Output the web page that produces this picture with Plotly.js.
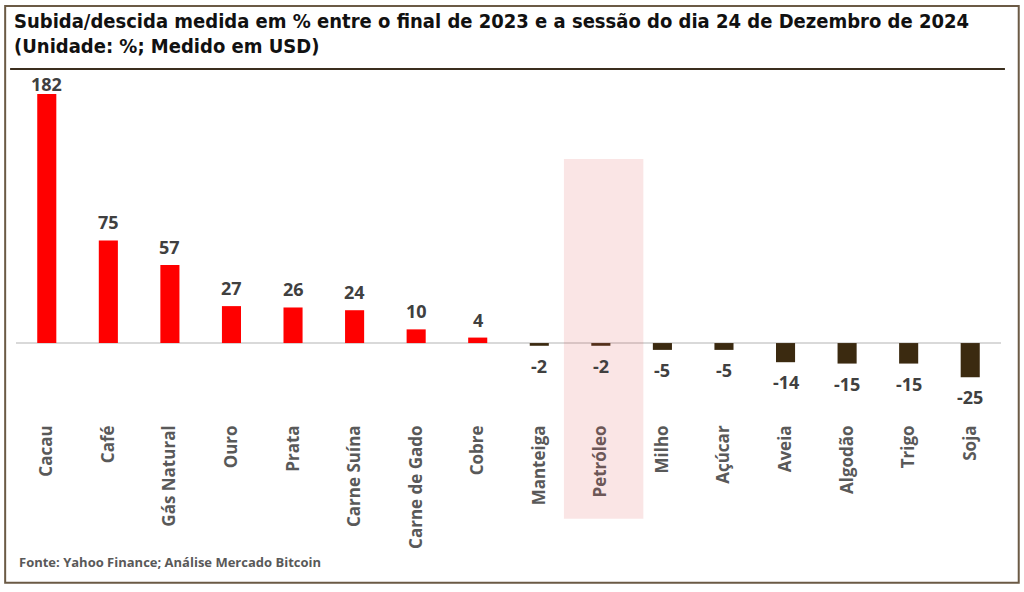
<!DOCTYPE html>
<html>
<head>
<meta charset="utf-8">
<script src="https://cdn.plot.ly/plotly-3.0.1.min.js"></script>
<style>
html,body{margin:0;padding:0;background:#fff;}
#chart{width:1024px;height:592px;}
</style>
</head>
<body>
<div id="chart"></div>
<script>
const categories = ["Cacau","Café","Gás Natural","Ouro","Prata","Carne Suína","Carne de Gado","Cobre","Manteiga","Petróleo","Milho","Açúcar","Aveia","Algodão","Trigo","Soja"];
const values = [182,75,57,27,26,24,10,4,-2,-2,-5,-5,-14,-15,-15,-25];
const highlightCategory = "Petróleo";
const titleLine1 = "Subida/descida medida em % entre o final de 2023 e a sessão do dia 24 de Dezembro de 2024";
const titleLine2 = "(Unidade: %; Medido em USD)";
const sourceText = "Fonte: Yahoo Finance; Análise Mercado Bitcoin";

const posColor = "#ff0000";
const negColor = "#3b2a10";
const hi = categories.indexOf(highlightCategory);
const yRange = [-52.6, 192.3];
// labels are kept inside the plot area (like the original spreadsheet chart)
const labelCeil = yRange[1] - 16;

const trace = {
  type: "bar",
  x: categories,
  y: values,
  marker: {color: values.map(v => v >= 0 ? posColor : negColor)},
  hoverinfo: "skip"
};

const labelFont = {family: "Open Sans, sans-serif", size: 18, color: "#404040", weight: 700};
const valueLabels = categories.map((c, i) => ({
  x: c, y: Math.min(values[i], labelCeil), xref: "x", yref: "y",
  text: String(values[i]),
  showarrow: false,
  yanchor: values[i] >= 0 ? "bottom" : "top",
  yshift: values[i] >= 0 ? 4 : -6,
  font: labelFont
}));

const titleFont = {family: "DejaVu Sans Condensed, DejaVu Sans, sans-serif", size: 20, color: "#111111", weight: 700};

const layout = {
  width: 1024, height: 592,
  margin: {l: 16, r: 23, t: 80, b: 177},
  paper_bgcolor: "#ffffff",
  plot_bgcolor: "#ffffff",
  showlegend: false,
  bargap: 0.69,
  xaxis: {
    type: "category",
    tickangle: -90,
    showgrid: false, showline: false, zeroline: false, ticks: "",
    tickfont: {family: "Open Sans, sans-serif", size: 17, color: "#595959", weight: 700},
    ticklabelstandoff: 6,
    fixedrange: true
  },
  yaxis: {
    range: yRange,
    showgrid: false, showline: false, showticklabels: false, ticks: "",
    zeroline: true, zerolinecolor: "#d9d9d9", zerolinewidth: 2,
    fixedrange: true
  },
  shapes: [
    {type: "rect", xref: "paper", yref: "paper", x0: -0.011, x1: 1.018, y0: 1.221, y1: -0.501,
     line: {color: "#6b5a45", width: 2}, fillcolor: "rgba(0,0,0,0)", layer: "below"},
    {type: "line", xref: "paper", yref: "paper", x0: -0.006, x1: 1.004, y0: 1.033, y1: 1.033,
     line: {color: "#3b2e1e", width: 2}},
    {type: "rect", xref: "x", yref: "paper", x0: hi - 0.6, x1: hi + 0.69, y0: 0.764, y1: -0.31,
     fillcolor: "rgba(220,80,80,0.15)", line: {width: 0}, layer: "above"}
  ],
  annotations: [
    {text: titleLine1, xref: "paper", yref: "paper", x: -0.004, y: 1.176, xanchor: "left", yanchor: "middle",
     showarrow: false, font: titleFont},
    {text: titleLine2, xref: "paper", yref: "paper", x: -0.004, y: 1.101, xanchor: "left", yanchor: "middle",
     showarrow: false, font: titleFont},
    {text: sourceText, xref: "paper", yref: "paper", x: 0.001, y: -0.44, xanchor: "left", yanchor: "middle",
     showarrow: false, font: {family: "Open Sans, sans-serif", size: 13, color: "#595959", weight: 700}}
  ].concat(valueLabels)
};

Plotly.newPlot("chart", [trace], layout, {displayModeBar: false, staticPlot: true});
</script>
</body>
</html>
